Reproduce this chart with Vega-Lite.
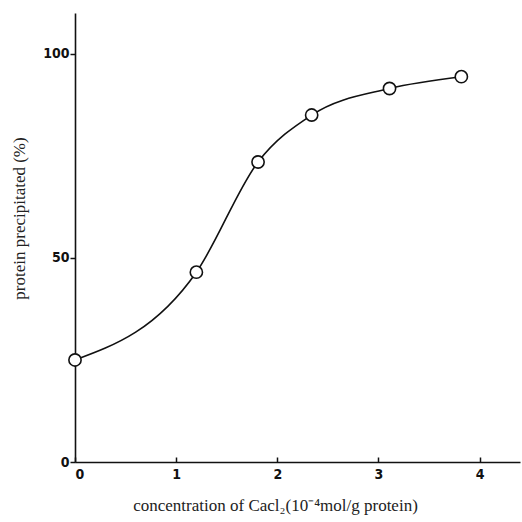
{
  "$schema": "https://vega.github.io/schema/vega-lite/v6.json",
  "width": 445,
  "height": 449,
  "autosize": "none",
  "padding": {"left": 75, "top": 13, "right": 2, "bottom": 60},
  "background": "white",
  "config": {"view": {"stroke": null}},
  "data": {"values": [
    {"c": 0, "p": 25},
    {"c": 1.2, "p": 46.5},
    {"c": 1.81, "p": 73.5},
    {"c": 2.34, "p": 85},
    {"c": 3.11, "p": 91.5},
    {"c": 3.82, "p": 94.4}
  ]},
  "encoding": {
    "x": {"field": "c", "type": "quantitative",
      "scale": {"domain": [0, 4.4], "nice": false, "zero": true},
      "axis": {"values": [0, 1, 2, 3, 4], "format": "d", "grid": false,
        "domainColor": "#111", "domainWidth": 1.6, "tickColor": "#111", "tickWidth": 1.5,
        "tickSize": -5, "labelPadding": 10, "labelFont": "DejaVu Sans Condensed", "labelFontWeight": "bold",
        "labelFontSize": 14, "labelColor": "#111",
        "title": "concentration of Cacl₂(10⁻⁴mol/g protein)",
        "titleFont": "Liberation Serif", "titleFontSize": 17, "titleFontWeight": "normal",
        "titleColor": "#222", "titlePadding": 16, "titleX": 200, "titleAnchor": "middle"}},
    "y": {"field": "p", "type": "quantitative",
      "scale": {"domain": [0, 110], "nice": false},
      "axis": {"values": [0, 50, 100], "grid": false,
        "domainColor": "#111", "domainWidth": 1.6, "tickColor": "#111", "tickWidth": 1.5,
        "tickSize": 5, "labelPadding": 1, "labelFont": "DejaVu Sans Condensed", "labelFontWeight": "bold",
        "labelFontSize": 14, "labelColor": "#111",
        "title": "protein precipitated (%)",
        "titleFont": "Liberation Serif", "titleFontSize": 17, "titleFontWeight": "normal",
        "titleColor": "#222", "titlePadding": 14, "titleY": 205, "titleAnchor": "middle"}}
  },
  "layer": [
    {"mark": {"type": "line", "interpolate": "monotone", "color": "#111", "strokeWidth": 1.6}},
    {"mark": {"type": "point", "shape": "circle", "filled": true, "fill": "white", "stroke": "#111", "strokeWidth": 1.6, "size": 150, "opacity": 1}}
  ]
}
